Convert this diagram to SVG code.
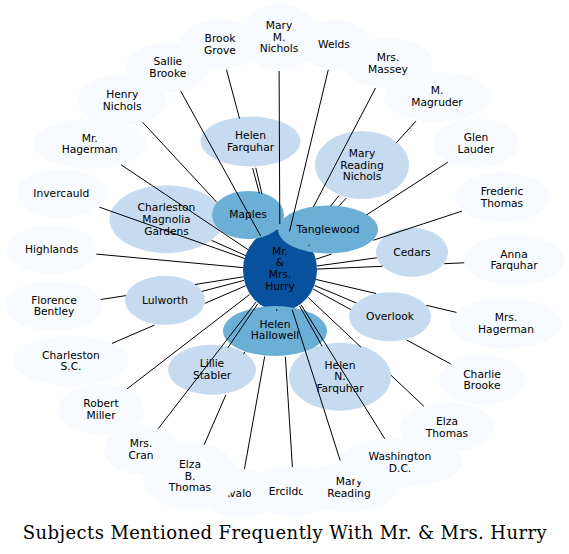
<svg xmlns="http://www.w3.org/2000/svg" width="569" height="554" viewBox="0 0 569 554">
<style>
.o ellipse{fill:#f7fbff}
.l ellipse{fill:#c6dbef}
.m ellipse{fill:#6baed6}
.c ellipse{fill:#08519c}
.n text{font-family:"DejaVu Sans",sans-serif;font-size:10.7px;text-anchor:middle;fill:#000}
#edges line{stroke:#000;stroke-width:1;fill:none}
.title{font-family:"DejaVu Serif","Liberation Serif",serif;font-size:18px;fill:#000}
</style>
<rect width="569" height="554" fill="#fff"/>
<g id="outer">
<g id="n-welds" class="n o"><ellipse cx="334" cy="44.5" rx="36" ry="24.5"/><text x="334" y="48.1">Welds</text></g>
<g id="n-brookgrove" class="n o"><ellipse cx="220" cy="44.2" rx="40" ry="25"/><text><tspan x="220" y="41.95">Brook</tspan><tspan x="220" y="53.65">Grove</tspan></text></g>
<g id="n-marymnichols" class="n o"><ellipse cx="279" cy="37" rx="39" ry="33"/><text><tspan x="279" y="28.9">Mary</tspan><tspan x="279" y="40.6">M.</tspan><tspan x="279" y="52.3">Nichols</tspan></text></g>
<g id="n-salliebrooke" class="n o"><ellipse cx="167.8" cy="67.5" rx="42" ry="24.5"/><text><tspan x="167.8" y="65.25">Sallie</tspan><tspan x="167.8" y="76.95">Brooke</tspan></text></g>
<g id="n-henrynichols" class="n o"><ellipse cx="122.2" cy="100.2" rx="45" ry="25"/><text><tspan x="122.2" y="97.95">Henry</tspan><tspan x="122.2" y="109.65">Nichols</tspan></text></g>
<g id="n-mrhagerman" class="n o"><ellipse cx="89.7" cy="143.8" rx="56" ry="25"/><text><tspan x="89.7" y="141.55">Mr.</tspan><tspan x="89.7" y="153.25">Hagerman</tspan></text></g>
<g id="n-invercauld" class="n o"><ellipse cx="61.3" cy="193.3" rx="45" ry="24.5"/><text x="61.3" y="196.9">Invercauld</text></g>
<g id="n-highlands" class="n o"><ellipse cx="51.7" cy="249.3" rx="45" ry="24.5"/><text x="51.7" y="252.9">Highlands</text></g>
<g id="n-florencebentley" class="n o"><ellipse cx="54" cy="305.8" rx="49" ry="25"/><text><tspan x="54" y="303.55">Florence</tspan><tspan x="54" y="315.25">Bentley</tspan></text></g>
<g id="n-charlestonsc" class="n o"><ellipse cx="71" cy="360.8" rx="58" ry="25"/><text><tspan x="71" y="358.55">Charleston</tspan><tspan x="71" y="370.25">S.C.</tspan></text></g>
<g id="n-robertmiller" class="n o"><ellipse cx="101" cy="409.2" rx="43" ry="25"/><text><tspan x="101" y="406.95">Robert</tspan><tspan x="101" y="418.65">Miller</tspan></text></g>
<g id="n-avalon" class="n o"><ellipse cx="240.5" cy="493.3" rx="37" ry="25"/><text x="240.5" y="496.9">Avalon</text></g>
<g id="n-elzabthomas" class="n o"><ellipse cx="190" cy="476" rx="47" ry="34"/><text><tspan x="190" y="467.9">Elza</tspan><tspan x="190" y="479.6">B.</tspan><tspan x="190" y="491.3">Thomas</tspan></text></g>
<g id="n-mrscran" class="n o"><ellipse cx="141" cy="449.2" rx="37" ry="25"/><text><tspan x="141" y="446.95">Mrs.</tspan><tspan x="141" y="458.65">Cran</tspan></text></g>
<g id="n-ercildoun" class="n o"><ellipse cx="293.5" cy="491" rx="43" ry="25"/><text x="293.5" y="494.6">Ercildoun</text></g>
<g id="n-maryreading" class="n o"><ellipse cx="349" cy="487.5" rx="48" ry="25"/><text><tspan x="349" y="485.25">Mary</tspan><tspan x="349" y="496.95">Reading</tspan></text></g>
<g id="n-washington" class="n o"><ellipse cx="400" cy="462.5" rx="62" ry="25"/><text><tspan x="400" y="460.25">Washington</tspan><tspan x="400" y="471.95">D.C.</tspan></text></g>
<g id="n-elzathomas" class="n o"><ellipse cx="447" cy="427.5" rx="47" ry="25"/><text><tspan x="447" y="425.25">Elza</tspan><tspan x="447" y="436.95">Thomas</tspan></text></g>
<g id="n-charliebrooke" class="n o"><ellipse cx="482" cy="380" rx="43" ry="25"/><text><tspan x="482" y="377.75">Charlie</tspan><tspan x="482" y="389.45">Brooke</tspan></text></g>
<g id="n-mrshagerman" class="n o"><ellipse cx="506" cy="323.3" rx="56" ry="25"/><text><tspan x="506" y="321.05">Mrs.</tspan><tspan x="506" y="332.75">Hagerman</tspan></text></g>
<g id="n-annafarquhar" class="n o"><ellipse cx="514" cy="260" rx="50" ry="25"/><text><tspan x="514" y="257.75">Anna</tspan><tspan x="514" y="269.45">Farquhar</tspan></text></g>
<g id="n-fredericthomas" class="n o"><ellipse cx="502" cy="197.5" rx="47" ry="25"/><text><tspan x="502" y="195.25">Frederic</tspan><tspan x="502" y="206.95">Thomas</tspan></text></g>
<g id="n-glenlauder" class="n o"><ellipse cx="476" cy="143.2" rx="43" ry="24.5"/><text><tspan x="476" y="140.95">Glen</tspan><tspan x="476" y="152.65">Lauder</tspan></text></g>
<g id="n-mmagruder" class="n o"><ellipse cx="437" cy="96.7" rx="53" ry="25"/><text><tspan x="437" y="94.45">M.</tspan><tspan x="437" y="106.15">Magruder</tspan></text></g>
<g id="n-mrsmassey" class="n o"><ellipse cx="388" cy="63.2" rx="45" ry="25"/><text><tspan x="388" y="60.95">Mrs.</tspan><tspan x="388" y="72.65">Massey</tspan></text></g>
</g>
<g id="inner">
<g id="n-helenfarquhar" class="n l"><ellipse cx="250.5" cy="141.5" rx="50" ry="25"/><text><tspan x="250.5" y="139.25">Helen</tspan><tspan x="250.5" y="150.95">Farquhar</tspan></text></g>
<g id="n-maryreadingnichols" class="n l"><ellipse cx="362" cy="165" rx="47" ry="34"/><text><tspan x="362" y="156.9">Mary</tspan><tspan x="362" y="168.6">Reading</tspan><tspan x="362" y="180.3">Nichols</tspan></text></g>
<g id="n-charlestonmagnolia" class="n l"><ellipse cx="166.5" cy="219.2" rx="57" ry="34"/><text><tspan x="166.5" y="211.1">Charleston</tspan><tspan x="166.5" y="222.8">Magnolia</tspan><tspan x="166.5" y="234.5">Gardens</tspan></text></g>
<g id="n-cedars" class="n l"><ellipse cx="412" cy="252.3" rx="36" ry="24.5"/><text x="412" y="255.9">Cedars</text></g>
<g id="n-lulworth" class="n l"><ellipse cx="165" cy="300.3" rx="40" ry="24.5"/><text x="165" y="303.9">Lulworth</text></g>
<g id="n-overlook" class="n l"><ellipse cx="390" cy="316.7" rx="41" ry="24.5"/><text x="390" y="320.3">Overlook</text></g>
<g id="n-lilliestabler" class="n l"><ellipse cx="212" cy="369.7" rx="44" ry="25"/><text><tspan x="212" y="367.45">Lillie</tspan><tspan x="212" y="379.15">Stabler</tspan></text></g>
<g id="n-helennfarquhar" class="n l"><ellipse cx="340" cy="376.7" rx="51" ry="34"/><text><tspan x="340" y="368.6">Helen</tspan><tspan x="340" y="380.3">N.</tspan><tspan x="340" y="392">Farquhar</tspan></text></g>
<g id="n-hurry" class="n c"><ellipse cx="280" cy="270" rx="37" ry="41"/><text><tspan x="280" y="254.75">Mr.</tspan><tspan x="280" y="266.45">&amp;</tspan><tspan x="280" y="278.15">Mrs.</tspan><tspan x="280" y="289.85">Hurry</tspan></text></g>
<g id="n-maples" class="n m"><ellipse cx="248" cy="215" rx="36" ry="24"/><text x="248" y="217.6">Maples</text></g>
<g id="n-tanglewood" class="n m"><ellipse cx="328" cy="229.5" rx="50" ry="24"/><text x="328" y="232.9">Tanglewood</text></g>
<g id="n-helenhallowell" class="n m"><ellipse cx="275" cy="331" rx="52" ry="25"/><text><tspan x="275" y="327.75">Helen</tspan><tspan x="275" y="339.45">Hallowell</tspan></text></g>
</g>
<g id="edges">
<line x1="279.1" y1="71" x2="279.8" y2="224"/>
<line x1="328.3" y1="69.7" x2="289.5" y2="231.4"/>
<line x1="375.5" y1="88" x2="313.4" y2="207"/>
<line x1="416.1" y1="121" x2="396.3" y2="142.8"/>
<line x1="346.3" y1="198" x2="338.7" y2="206.3"/>
<line x1="338.9" y1="195.6" x2="330.7" y2="206.1"/>
<line x1="447.9" y1="162.2" x2="366.6" y2="214.9"/>
<line x1="462" y1="211.1" x2="373.2" y2="240.3"/>
<line x1="331.5" y1="254.1" x2="315.5" y2="259.3"/>
<line x1="464.2" y1="262.8" x2="444.3" y2="263.7"/>
<line x1="382.5" y1="266.3" x2="317" y2="269.1"/>
<line x1="376.7" y1="257.8" x2="316.7" y2="266"/>
<line x1="456.4" y1="312.4" x2="426.2" y2="305.3"/>
<line x1="376" y1="293.5" x2="316.2" y2="279.5"/>
<line x1="356.2" y1="302.9" x2="314.7" y2="285.5"/>
<line x1="450.6" y1="363.9" x2="406.5" y2="339.9"/>
<line x1="351.1" y1="309.7" x2="313.2" y2="289.1"/>
<line x1="423.8" y1="406.2" x2="390.9" y2="375.2"/>
<line x1="360.8" y1="347" x2="308.2" y2="297.5"/>
<line x1="384.8" y1="438.8" x2="301.1" y2="304.8"/>
<line x1="340.2" y1="460.5" x2="292.2" y2="309.7"/>
<line x1="322.1" y1="346.1" x2="299.6" y2="305.9"/>
<line x1="292.4" y1="467" x2="285.4" y2="356.7"/>
<line x1="244.4" y1="469.2" x2="264.7" y2="356.4"/>
<line x1="204.2" y1="444.6" x2="225.8" y2="395"/>
<line x1="243.6" y1="354.2" x2="244.7" y2="351.8"/>
<line x1="158.1" y1="428.8" x2="256" y2="302.1"/>
<line x1="227.9" y1="347.7" x2="257.7" y2="303.8"/>
<line x1="126.9" y1="389" x2="249.6" y2="294.5"/>
<line x1="112" y1="343.4" x2="154.4" y2="325.1"/>
<line x1="204.8" y1="303.4" x2="245.5" y2="285.8"/>
<line x1="201.9" y1="291.4" x2="244" y2="280.4"/>
<line x1="100.8" y1="299.5" x2="125.9" y2="295.6"/>
<line x1="195" y1="284.5" x2="243.4" y2="276.8"/>
<line x1="96.3" y1="254.1" x2="243.1" y2="267.6"/>
<line x1="99.5" y1="207.2" x2="244.7" y2="258.5"/>
<line x1="211.6" y1="240.4" x2="245.7" y2="255.6"/>
<line x1="121.1" y1="164.8" x2="248.3" y2="249.8"/>
<line x1="142.5" y1="122.2" x2="217" y2="202.5"/>
<line x1="180.6" y1="90.9" x2="260.7" y2="236"/>
<line x1="226.5" y1="69.7" x2="239.5" y2="118.5"/>
<line x1="252.6" y1="168" x2="259.4" y2="193.3"/>
<line x1="255.8" y1="167.8" x2="261.9" y2="193.8"/>
<line x1="309.6" y1="244.8" x2="308.6" y2="245.9"/>
<line x1="276.6" y1="309.3" x2="276.9" y2="311"/>
</g>
<text class="title" x="22.7" y="538.5" textLength="524" lengthAdjust="spacing">Subjects Mentioned Frequently With Mr. &amp; Mrs. Hurry</text>
</svg>
